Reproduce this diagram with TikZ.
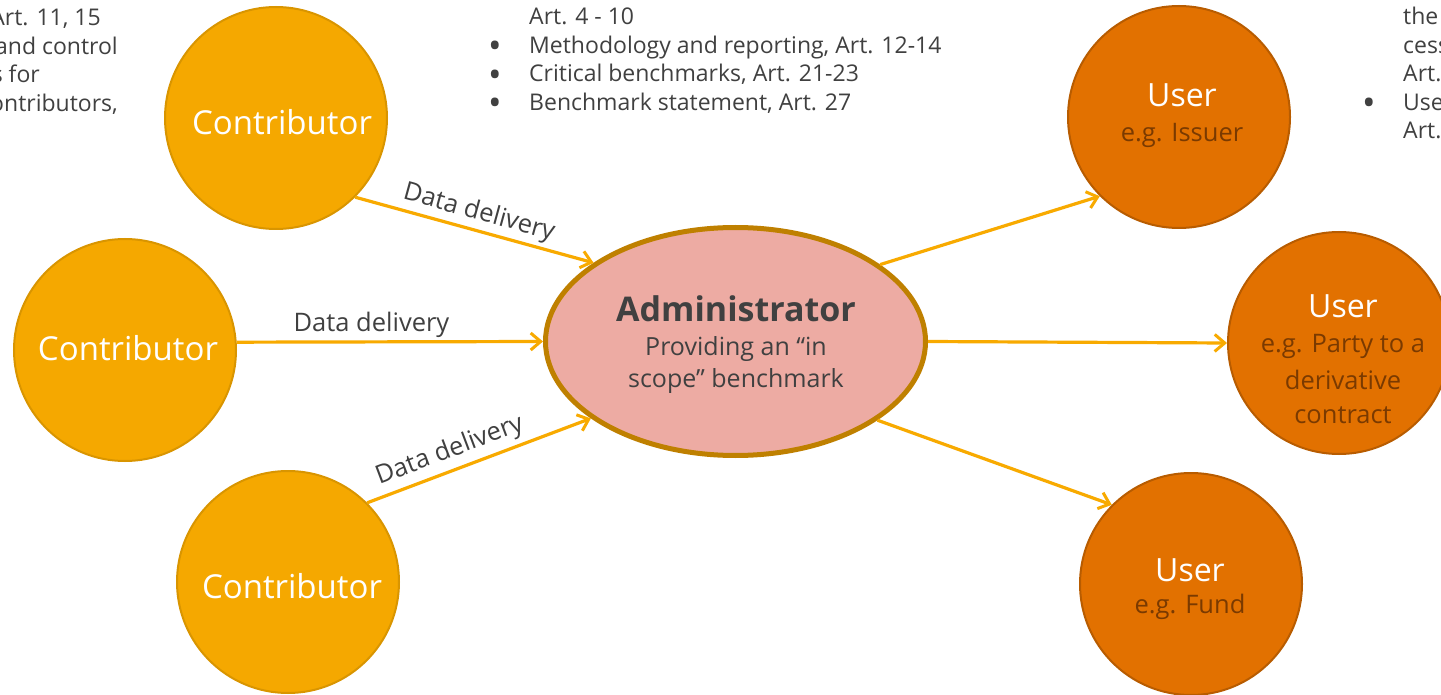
\documentclass[tikz,border=0pt]{standalone}
\usepackage{fontspec}
\setmainfont{Open Sans}
\usetikzlibrary{arrows.meta,shapes.geometric}
\definecolor{contribfill}{HTML}{F5A800}
\definecolor{contribline}{HTML}{D99500}
\definecolor{userfill}{HTML}{E27100}
\definecolor{userline}{HTML}{B85C00}
\definecolor{usersub}{HTML}{7A3A00}
\definecolor{adminfill}{HTML}{EDABA3}
\definecolor{adminline}{HTML}{BF8000}
\definecolor{arrowcol}{HTML}{F8AA00}
\definecolor{textgray}{HTML}{404040}
\tikzset{
  contrib/.style={circle, fill=contribfill, draw=contribline, line width=2pt, minimum size=222pt, inner sep=0pt},
  usernode/.style={circle, fill=userfill, draw=userline, line width=2pt, minimum size=222pt, inner sep=0pt},
  adminnode/.style={ellipse, fill=adminfill, draw=adminline, line width=5pt, minimum width=380pt, minimum height=228pt, inner sep=0pt},
  contribtext/.style={text=white, font=\fontsize{33}{36}\selectfont, inner sep=0pt},
  usertitle/.style={text=white, font=\fontsize{32}{36}\selectfont, inner sep=0pt},
  usersubtext/.style={text=usersub, font=\fontsize{25.5}{30}\selectfont, inner sep=0pt},
  admintitle/.style={text=textgray, font=\bfseries\fontsize{34}{36}\selectfont, inner sep=0pt},
  adminsub/.style={text=textgray, font=\fontsize{25}{30}\selectfont, inner sep=0pt},
  listtext/.style={text=textgray, font=\fontsize{23}{28}\selectfont, inner sep=0pt, anchor=base west},
  listtextr/.style={text=textgray, font=\fontsize{23}{28}\selectfont, inner sep=0pt, anchor=base east},
  bulletmark/.style={text=textgray, font=\fontsize{36}{40}\selectfont, inner sep=0pt, anchor=base},
  arr/.style={draw=arrowcol, line width=3.2pt, -{Straight Barb[length=10pt,width=17pt,line width=3pt]}},
  lbl/.style={text=textgray, font=\fontsize{25.5}{30}\selectfont, inner sep=3pt},
}
\begin{document}
\begin{tikzpicture}[x=1pt,y=-1pt]
\useasboundingbox (0,0) rectangle (1441,695);
\clip (0,0) rectangle (1441,695);
\fill[white] (0,0) rectangle (1441,695);

% top-left text fragments
\node[listtextr] (tl1) at (101,26) {Art. 11, 15};
\node[listtextr] (tl2) at (118,54.5) {and control};
\node[listtextr] (tl3) at (40,83) {s for};
\node[listtextr] (tl4) at (118,111.5) {ontributors,};

% top-middle list
\node[listtext] (tm1) at (529,25) {Art. 4 - 10};
\node[bulletmark] (tb2) at (495,59) {•};
\node[listtext] (tm2) at (529,53.5) {Methodology and reporting, Art. 12-14};
\node[bulletmark] (tb3) at (495,87.5) {•};
\node[listtext] (tm3) at (529,82) {Critical benchmarks, Art. 21-23};
\node[bulletmark] (tb4) at (495,116) {•};
\node[listtext] (tm4) at (529,110.5) {Benchmark statement, Art. 27};

% top-right fragments
\node[listtext] (tr1) at (1403,25) {the};
\node[listtext] (tr2) at (1403,53.5) {cess};
\node[listtext] (tr3) at (1403,82) {Art.};
\node[bulletmark] (trb) at (1369,116) {•};
\node[listtext] (tr4) at (1403,110.5) {Use};
\node[listtext] (tr5) at (1403,139) {Art.};

% contributors
\node[contrib] (c1) at (276,118) {};
\node[contrib] (c2) at (125,350) {};
\node[contrib] (c3) at (288,582) {};
\node[contribtext] (c1t) at (282,122) {Contributor};
\node[contribtext] (c2t) at (128,348) {Contributor};
\node[contribtext] (c3t) at (292,586) {Contributor};

% administrator
\node[adminnode] (admin) at (735.5,341.5) {};
\node[admintitle] (admint) at (736,309) {Administrator};
\node[adminsub] (admins1) at (736,349) {Providing an “in};
\node[adminsub] (admins2) at (736,381) {scope” benchmark};

% users
\node[usernode] (u1) at (1179,117) {};
\node[usernode] (u2) at (1339,343) {};
\node[usernode] (u3) at (1191,584) {};
\node[usertitle] (u1t) at (1182,95) {User};
\node[usersubtext] (u1s) at (1182,135) {e.g. Issuer};
\node[usertitle] (u2t) at (1343,306) {User};
\node[usersubtext] (u2s1) at (1343,346) {e.g. Party to a};
\node[usersubtext] (u2s2) at (1343,380) {derivative};
\node[usersubtext] (u2s3) at (1343,415) {contract};
\node[usertitle] (u3t) at (1190,570) {User};
\node[usersubtext] (u3s) at (1190,607) {e.g. Fund};

% connectors
\draw[arr] (c1.-45) -- node[lbl, above, sloped, pos=0.5] (l1) {Data delivery} (admin.151);
\draw[arr] (c2.4) -- node[lbl, above, pos=0.44] (l2) {Data delivery} (admin.west);
\draw[arr] (c3.45) -- node[lbl, above=2pt, sloped, pos=0.4] (l3) {Data delivery} (admin.208);
\draw[arr] (admin.28.5) -- (u1.225);
\draw[arr] (admin.east) -- (u2.west);
\draw[arr] (admin.-29) -- (u3.135);
\end{tikzpicture}
\end{document}
